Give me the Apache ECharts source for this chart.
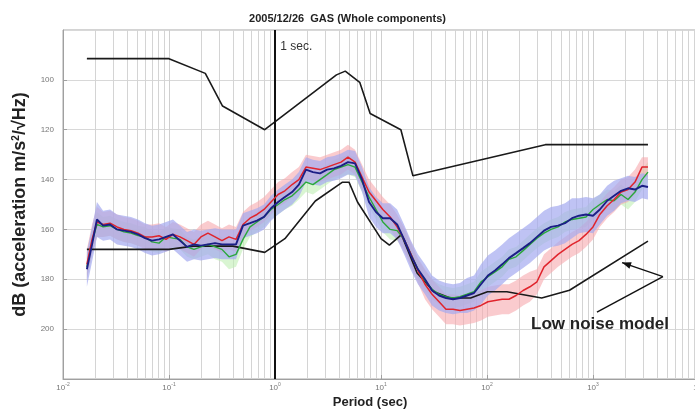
<!DOCTYPE html>
<html>
<head>
<meta charset="utf-8">
<script src="https://cdn.jsdelivr.net/npm/echarts@6/dist/echarts.min.js"></script>
<style>
  html, body { margin: 0; padding: 0; background: #fff; }
  #chart { width: 695px; height: 410px; }
</style>
</head>
<body>
<div id="chart"></div>
<script>
// periods (sec) shared by the measured curves
const periods = [0.0168, 0.0188, 0.0209, 0.0239, 0.0278, 0.0323, 0.0376, 0.0438, 0.0510, 0.0594,
  0.0691, 0.0805, 0.0937, 0.109, 0.127, 0.148, 0.172, 0.200, 0.233, 0.272,
  0.316, 0.368, 0.429, 0.499, 0.581, 0.676, 0.788, 0.917, 1.07, 1.24,
  1.45, 1.68, 1.96, 2.28, 2.66, 3.10, 3.60, 4.20, 4.88, 5.69,
  6.62, 7.71, 8.97, 10.4, 12.2, 14.2, 16.5, 19.2, 22.3, 26.0,
  30.3, 35.3, 41.0, 47.8, 55.6, 64.8, 75.4, 87.8, 102, 119,
  139, 161, 188, 219, 254, 296, 345, 402, 468, 544,
  634, 738, 859, 1000, 1160, 1360, 1580, 1840, 2140, 2490,
  2900, 3300]

// dB values (axis shows them inverted)
const navyDb = [176, 166, 156, 158.5, 158, 160, 160.5, 161, 162, 163.5,
  164.5, 164, 163, 162, 164.5, 167, 166, 166.5, 166, 165.5,
  166, 166, 166, 158.5, 157.5, 156.5, 155, 151.5, 149, 147,
  145, 142, 136, 137, 137.5, 136, 135.5, 134.5, 133, 133.5,
  140, 149, 153, 155.5, 155.5, 158, 164, 170.5, 176, 180,
  184.5, 186.5, 187.5, 188, 187.5, 186.5, 185.5, 182, 178.5, 176.5,
  174, 171.5, 169.5, 167.5, 165.5, 163, 160.5, 159, 158.5, 157.5,
  155.5, 154.5, 154, 154.5, 152, 148.5, 146.5, 144.5, 143.5, 144,
  142.5, 143]

const redDb = [174, 164, 157, 158, 157.5, 159, 160, 160.5, 161.5, 163,
  163, 162.5, 164, 162, 163, 164.5, 166, 163, 161.5, 163,
  164.5, 163, 164, 158, 155.5, 154, 152, 149, 146, 144.5,
  142, 140, 135, 135.5, 136, 135, 134, 133, 131, 133,
  139, 145, 148.5, 152, 155, 159, 164, 170, 176.5, 182,
  186, 189, 192, 192, 192.5, 192, 191.5, 190.5, 189, 188.5,
  188, 188, 186.5, 184.5, 183, 181, 175, 172.5, 170, 168,
  166, 164.5, 162, 159, 154, 150.5, 148, 145, 144, 141,
  135, 135]

const greenDb = [175, 165, 158, 159, 158.5, 160, 161, 161.5, 162.5, 163,
  165, 165.5, 163, 163.5, 164, 167, 168, 167, 166, 167,
  168, 171, 170, 164, 159, 157, 155, 152, 150, 148,
  146.5, 144, 141, 142, 140, 138, 136, 135, 134, 135,
  141, 147, 152, 157, 160, 160.5, 164, 170, 176, 180.5,
  184, 186, 187, 187.5, 187, 186, 185, 181, 179, 177,
  175, 172, 171, 168.5, 166, 163.5, 161.5, 160, 159, 157,
  156, 155.5, 155, 152, 150, 148, 148.5, 146, 148, 145,
  140, 137]

// half widths of the shaded bands
const blueSpread = [7, 7, 7, 6, 6, 6, 6, 6, 6, 6,
  6, 6, 6, 6, 6, 6, 6, 6, 6, 6,
  6, 6, 6, 5, 5, 5, 5, 5, 5, 5,
  5, 5, 5, 5, 5, 5, 5, 5, 5, 5,
  5, 6, 6, 6, 6, 6, 6, 6, 6, 6,
  6, 6, 6, 6, 6, 7, 7, 8, 8, 8,
  8, 8, 8, 8, 8, 8, 8, 8, 8, 8,
  8, 7, 7, 7, 6, 6, 6, 5, 5, 5,
  5, 5]

const redSpread = [6, 6, 6, 5, 5, 5, 5, 5, 5, 5,
  5, 5, 5, 5, 5, 5, 5, 5, 5, 5,
  5, 5, 5, 5, 5, 5, 5, 5, 5, 5,
  5, 5, 5, 5, 5, 5, 5, 5, 5, 5,
  5, 5, 5, 5, 5, 5, 5, 5, 5, 6,
  6, 6, 6, 6, 6, 6, 6, 6, 6, 6,
  6, 6, 6, 6, 6, 5, 5, 5, 5, 5,
  5, 5, 5, 5, 5, 5, 5, 5, 5, 5,
  4, 4]

const greenSpread = [5, 5, 5, 4, 4, 4, 4, 4, 4, 4,
  4, 4, 4, 4, 4, 4, 4, 4, 4, 5,
  5, 5, 5, 4, 4, 4, 4, 4, 4, 4,
  4, 4, 4, 4, 4, 4, 4, 4, 4, 4,
  4, 4, 4, 4, 4, 4, 4, 4, 4, 4,
  4, 4, 4, 4, 4, 4, 4, 4, 4, 4,
  4, 4, 4, 4, 4, 4, 4, 4, 4, 4,
  4, 4, 4, 4, 4, 4, 4, 4, 4, 4,
  4, 4]

// Peterson noise models
const nhnmPeriods = [0.0168, 0.1, 0.22, 0.32, 0.8, 3.8, 4.6, 6.3, 7.9, 15.4, 20, 354.8, 3300]
const nhnmDb = [91.5, 91.5, 97.4, 110.5, 120.0, 98.0, 96.5, 101.0, 113.5, 120.0, 138.5, 126.0, 126.0]
const nlnmPeriods = [0.0168, 0.1, 0.17, 0.4, 0.8, 1.24, 2.4, 4.3, 5.0, 6.0, 10, 12, 15.6, 21.9, 31.6, 45, 70, 101, 154, 328, 600, 3300]
const nlnmDb = [168.0, 168.0, 166.7, 166.7, 169.2, 163.7, 148.6, 141.1, 141.1, 149.0, 163.7, 166.3, 162.1, 177.5, 185.0, 187.5, 187.5, 185.0, 185.0, 187.5, 184.4, 164.7]

const FONT = 'Liberation Sans'

// minor vertical grid lines 2..9 x 10^k
const minorTicks = []
for (let k = -2; k < 4; k++) {
  for (let m = 2; m <= 9; m++) minorTicks.push(m * Math.pow(10, k))
}

const pairs = (xs, ys) => xs.map((x, i) => [x, ys[i]])

// shaded band drawn as one polygon: upper edge forward, lower edge back
const bandSeries = (id, values, spread, color, opacity) => ({
  name: id + 'Band',
  type: 'custom',
  silent: true,
  clip: true,
  data: [[periods[0], values[0]]],
  renderItem: (params, api) => {
    const upper = periods.map((p, i) => api.coord([p, values[i] - spread[i]]))
    const lower = periods.map((p, i) => api.coord([p, values[i] + spread[i]])).reverse()
    return {
      type: 'polygon',
      shape: { points: upper.concat(lower) },
      style: { fill: color, opacity: opacity }
    }
  },
  z: 1
})

const lineSeries = (name, xs, ys, color, width, z) => ({
  name: name,
  type: 'line',
  symbol: 'none',
  lineStyle: { color: color, width: width },
  data: pairs(xs, ys),
  z: z
})

const chart = echarts.init(document.getElementById('chart'))

const option = {
  animation: false,
  backgroundColor: '#fff',
  title: {
    text: '2005/12/26  GAS (Whole components)',
    left: 'center',
    top: 8,
    textStyle: { fontFamily: FONT, fontSize: 11, fontWeight: 'bold', color: '#222' }
  },
  grid: {
    left: 63,
    right: -4,
    top: 30,
    bottom: 31,
    containLabel: false,
    outerBoundsMode: 'none',
    show: true,
    borderColor: '#a8a8a8',
    borderWidth: 1
  },
  xAxis: {
    type: 'log',
    logBase: 10,
    min: 0.01,
    max: 10000,
    name: 'Period (sec)',
    nameLocation: 'middle',
    nameGap: 9,
    nameTextStyle: { fontFamily: FONT, fontSize: 13, fontWeight: 'bold', color: '#222', padding: [0, 22, 0, 0] },
    axisLine: { lineStyle: { color: '#a0a0a0' } },
    axisTick: { inside: true, length: 4, lineStyle: { color: '#a0a0a0' } },
    axisLabel: {
      margin: 3,
      formatter: (v) => '{b|10}{e|' + Math.round(Math.log10(v)) + '}',
      rich: {
        b: { fontFamily: FONT, fontSize: 8, color: '#777' },
        e: { fontFamily: FONT, fontSize: 5, color: '#777', padding: [0, 0, 6, 0] }
      }
    },
    splitLine: { show: true, lineStyle: { color: '#cfcfcf', width: 1 } }
  },
  yAxis: {
    type: 'value',
    inverse: true,
    min: 80,
    max: 220,
    interval: 20,
    name: 'dB (acceleration m/s{s|2}/√Hz)',
    nameLocation: 'middle',
    nameGap: 33,
    nameTextStyle: {
      fontFamily: FONT, fontSize: 18, fontWeight: 'bold', color: '#222',
      rich: { s: { fontFamily: FONT, fontSize: 10, fontWeight: 'bold', color: '#222', padding: [0, 0, 9, 0] } }
    },
    axisLine: { show: true, lineStyle: { color: '#a0a0a0' } },
    axisTick: { show: true, inside: true, length: 4, lineStyle: { color: '#a0a0a0' } },
    axisLabel: { showMinLabel: false, showMaxLabel: false, margin: 9, fontFamily: FONT, fontSize: 8, color: '#777' },
    splitLine: { show: true, lineStyle: { color: '#d8d8d8', width: 1 } }
  },
  series: [
    {
      name: 'grid',
      type: 'line',
      data: [],
      markLine: {
        z: 0,
        silent: true,
        symbol: ['none', 'none'],
        label: { show: false },
        lineStyle: { color: '#d4d4d4', width: 1, type: 'solid' },
        data: minorTicks.map((v) => ({ xAxis: v }))
      },
      z: 0
    },
    bandSeries('green', greenDb, greenSpread, '#bfeeb4', 0.6),
    bandSeries('red', redDb, redSpread, '#f6a9ae', 0.6),
    bandSeries('blue', navyDb, blueSpread, '#a4aaf0', 0.7),
    lineSeries('NHNM', nhnmPeriods, nhnmDb, '#1a1a1a', 1.6, 3),
    Object.assign(lineSeries('NLNM', nlnmPeriods, nlnmDb, '#1a1a1a', 1.6, 3), {
      markLine: {
        silent: true,
        symbol: ['none', 'none'],
        label: { show: false },
        lineStyle: { color: '#111', width: 2, type: 'solid' },
        data: [{ xAxis: 1 }]
      }
    }),
    lineSeries('green', periods, greenDb, '#2aa83a', 1.4, 4),
    lineSeries('red', periods, redDb, '#e0242c', 1.5, 5),
    lineSeries('mean', periods, navyDb, '#1b1f86', 1.9, 6)
  ]
}

chart.setOption(option)

// annotations: "1 sec." label, "Low noise model" label with arrows
const tail = chart.convertToPixel('grid', [4570, 178.9])
const tip = chart.convertToPixel('grid', [1880, 173.3])
const foot = chart.convertToPixel('grid', [1090, 193.2])
const dx = tip[0] - tail[0], dy = tip[1] - tail[1]
const len = Math.hypot(dx, dy)
const ux = dx / len, uy = dy / len
const head = [
  tip,
  [tip[0] - 9 * ux - 3.5 * uy, tip[1] - 9 * uy + 3.5 * ux],
  [tip[0] - 9 * ux + 3.5 * uy, tip[1] - 9 * uy - 3.5 * ux]
]
const secPos = chart.convertToPixel('grid', [1.12, 86.5])
const lowPos = chart.convertToPixel('grid', [1164, 198])

chart.setOption({
  graphic: [
    {
      type: 'text', x: secPos[0], y: secPos[1], z: 10,
      style: { text: '1 sec.', fontFamily: FONT, fontSize: 12, fill: '#333', textVerticalAlign: 'middle' }
    },
    {
      type: 'text', x: lowPos[0], y: lowPos[1], z: 10,
      style: { text: 'Low noise model', fontFamily: FONT, fontSize: 17, fontWeight: 'bold', fill: '#222', textAlign: 'center', textVerticalAlign: 'middle' }
    },
    { type: 'polyline', z: 10, shape: { points: [tail, tip] }, style: { stroke: '#111', lineWidth: 1.4 } },
    { type: 'polyline', z: 10, shape: { points: [tail, foot] }, style: { stroke: '#111', lineWidth: 1.4 } },
    { type: 'polygon', z: 10, shape: { points: head }, style: { fill: '#111' } }
  ]
})
</script>
</body>
</html>
